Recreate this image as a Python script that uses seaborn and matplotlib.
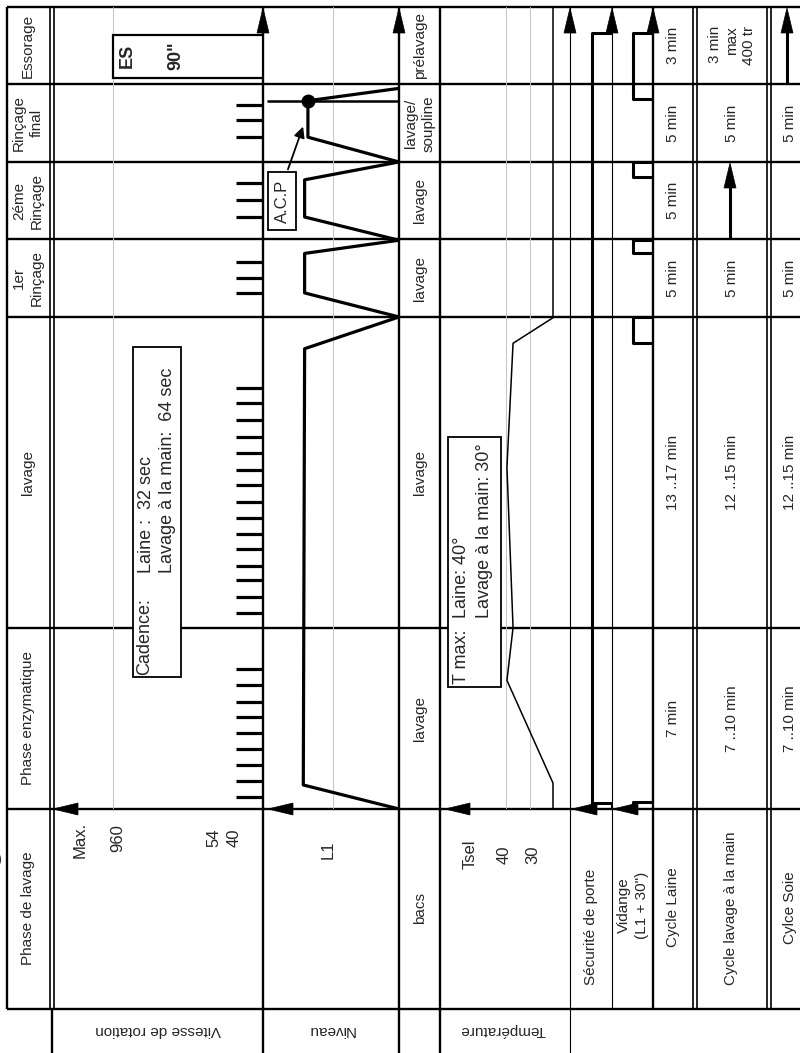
import numpy as np
import matplotlib
matplotlib.use("Agg")
import matplotlib.pyplot as plt
from matplotlib.patches import Polygon, Rectangle
from matplotlib.transforms import blended_transform_factory
import seaborn as sns

sns.set_theme(style="white")
plt.rcParams["font.family"] = ["Liberation Sans", "DejaVu Sans"]

# ---------------- data ----------------
# phases along the (schematic) time axis, bottom -> top
phase_names = ["Phase enzymatique", "lavage", "1er\nRinçage", "2éme\nRinçage", "Rinçage\nfinal", "Essorage"]
phase_edges = [0.0, 23.4, 63.5, 73.5, 83.5, 93.5, 103.5]
bacs_labels = ["lavage", "lavage", "lavage", "lavage", "lavage/\nsoupline", "prélavage"]
cycle_laine = ["7 min", "13 ..17 min", "5 min", "5 min", "5 min", "3 min"]
cycle_main = ["7 ..10 min", "12 ..15 min", "5 min", "^", "5 min", "3 min\nmax\n400 tr"]
cycle_soie = ["7 ..10 min", "12 ..15 min", "5 min", "", "5 min", "^"]

# rotation speed (rpm) -- schematic axis
speed_ref = [0, 40, 54, 960, 1490]
speed_grid = [960]
cadence_t = [1.5, 3.6, 5.7, 7.7, 9.8, 11.9, 13.8, 16.0, 18.1,
             25.3, 27.3, 29.5, 31.4, 33.5, 35.5, 37.5, 39.6, 41.8, 43.7, 45.9, 48.0, 50.2, 52.4, 54.3,
             66.6, 68.5, 70.6, 76.4, 78.6, 80.8, 86.7, 88.9, 90.8]
cadence_rpm = 40
spin_rpm = 960
spin_t = [94.3, 99.9]

# water level (L1 = 1)
level_t = [0, 3.1, 59.4, 63.5, 66.6, 71.7, 73.4, 76.4, 81.2, 83.5, 86.7, 91.4, 93.0]
level_v = [0, 1.45, 1.43, 0, 1.43, 1.43, 0, 1.43, 1.43, 0, 1.38, 1.38, 0]
acp_t = 91.4

# temperature (°C)
temp_t = [0, 3.35, 16.6, 23.4, 44.1, 60.1, 63.4, 103.5]
temp_c = [20, 20, 39.6, 37.0, 39.6, 37.0, 20, 20]
temp_grid = [40, 30]

# door lock and drain (on/off times)
lock_on, lock_off = [0.8], [100.1]
drain_on = [0.0, 60.1, 71.7, 81.5, 91.6]
drain_off = [0.9, 63.5, 73.4, 83.5, 100.1]

# ---------------- layout ----------------
W, H = 800, 1053
Y_T0, Y_T1 = 809, 7
K = "black"
LWT = 1.7
LWn = 0.8
GRID = "#c4c4c4"
FS = 11

fig = plt.figure(figsize=(W / 100, H / 100), dpi=100)
fig.patch.set_facecolor("white")
ax = fig.add_axes([0, 0, 1, 1])
ax.set_xlim(0, W); ax.set_ylim(H, 0); ax.axis("off")


def panel(x0, x1):
    a = fig.add_axes([x0 / W, 1 - Y_T0 / H, (x1 - x0) / W, (Y_T0 - Y_T1) / H])
    a.set_facecolor("none")
    a.axis("off")
    return a


def fix_t(a):
    a.set_ylim(phase_edges[0], phase_edges[-1])


# rows (time phases)
ax_rows = panel(7, 800)
ax_rows.set_xlim(0, 1); fix_t(ax_rows)
ax_rows.hlines(phase_edges, 0, 1, color=K, lw=LWT, clip_on=False)
ax.hlines(1009, 7, 800, color=K, lw=LWT)

# table verticals
verts = [(7, 7, 1009, LWT), (49.5, 7, 1009, 1.2), (53.5, 7, 1009, 1.2), (52, 1009, 1053, LWT),
         (263, 7, 1053, LWT), (399, 7, 1053, LWT), (440, 7, 1053, LWT), (570, 7, 1053, LWn),
         (612, 7, 1009, LWn), (653, 7, 1009, LWT), (693, 7, 1009, 1.2), (697, 7, 1009, 1.2),
         (766.5, 7, 1009, 1.2), (770.5, 7, 1009, 1.2)]
for x, y0, y1, lw in verts:
    ax.vlines(x, y0, y1, color=K, lw=lw)

# ---- speed panel ----
ax_speed = panel(54, 263)
ax_speed.set_xscale("function", functions=(
    lambda v: np.interp(v, speed_ref, [0, 27, 49, 150, 209]),
    lambda p: np.interp(p, [0, 27, 49, 150, 209], speed_ref)))
for g in speed_grid:
    ax_speed.axvline(g, color=GRID, lw=0.7, zorder=0)
ax_speed.hlines(cadence_t, 0, cadence_rpm, color=K, lw=2.3)
ax_speed.add_patch(Rectangle((0, spin_t[0]), spin_rpm, spin_t[1] - spin_t[0],
                             facecolor="white", edgecolor=K, lw=1.6, zorder=3))
ax_speed.set_xlim(speed_ref[-1], 0); fix_t(ax_speed)

# ---- level panel ----
ax_level = panel(263, 399)
ax_level.axvline(1.0, color=GRID, lw=0.7, zorder=0)
ax_level.hlines(acp_t, 0, 2.0, color=K, lw=1.8)
sns.lineplot(x=level_v, y=level_t, sort=False, estimator=None, ax=ax_level, color=K, lw=2.3)
ax_level.plot([level_v[-3]], [acp_t], "o", color=K, ms=9)
ax_level.set_xlim(136 / 66, 0); fix_t(ax_level); ax_level.axis("off")

# ---- temperature panel ----
ax_temp = panel(440, 570)
for g in temp_grid:
    ax_temp.axvline(g, color=GRID, lw=0.7, zorder=0)
sns.lineplot(x=temp_c, y=temp_t, sort=False, estimator=None, ax=ax_temp, color=K, lw=1.1)
ax_temp.set_xlim(20 + 113 / 2.35, 20 - 17 / 2.35); fix_t(ax_temp); ax_temp.axis("off")


def steps(on, off):
    t, v = [0.0], [0]
    for a, b in zip(on, off):
        t += [a, a, b, b]; v += [0, 1, 1, 0]
    return t, v


ax_lock = panel(570, 612)
lt, lv = steps(lock_on, lock_off)
sns.lineplot(x=lv, y=lt, sort=False, estimator=None, ax=ax_lock, color=K, lw=2.2)
ax_lock.set_xlim(2.1, 0); fix_t(ax_lock); ax_lock.axis("off")

ax_drain = panel(612, 653)
dt, dv = steps(drain_on, drain_off)
sns.lineplot(x=dv, y=dt, sort=False, estimator=None, ax=ax_drain, color=K, lw=2.2)
ax_drain.set_xlim(2.05, 0); fix_t(ax_drain); ax_drain.axis("off")

# ---------------- overlay (boxes, arrows, texts) ----------------
ov = fig.add_axes([0, 0, 1, 1])
ov.set_xlim(0, W); ov.set_ylim(H, 0); ov.axis("off"); ov.set_facecolor("none")


def up_arrow(x, y_tip, L=25, w=6):
    ov.add_patch(Polygon([[x, y_tip], [x - w, y_tip + L], [x + w, y_tip + L]], closed=True,
                         facecolor=K, edgecolor=K, lw=0.5, zorder=6))


def left_arrow(x_tip, y, L=25, w=6):
    ov.add_patch(Polygon([[x_tip, y], [x_tip + L, y - w], [x_tip + L, y + w]], closed=True,
                         facecolor=K, edgecolor=K, lw=0.5, zorder=6))


for x in [263, 399, 570, 612, 653]:
    up_arrow(x, 8)
for x in [53, 268, 445, 572, 613]:
    left_arrow(x, 809)

# arrows in cells ("^")
trans_t = blended_transform_factory(ov.transData, ax_rows.transData)
col_x = {"laine": 673, "main": 732, "soie": 787}
for key, vals in [("main", cycle_main), ("soie", cycle_soie)]:
    for i, v in enumerate(vals):
        if v == "^":
            y_bot = Y_T0 - (Y_T0 - Y_T1) * phase_edges[i] / phase_edges[-1]
            y_top = Y_T0 - (Y_T0 - Y_T1) * phase_edges[i + 1] / phase_edges[-1]
            xx = col_x[key] - (2 if key == "main" else 0)
            ov.vlines(xx, y_top + 20, y_bot, color=K, lw=2.2)
            up_arrow(xx, y_top + 1)

# boxes
def box(x0, y0, x1, y1, lw=1.3):
    ov.add_patch(Rectangle((x0, y0), x1 - x0, y1 - y0, facecolor="white", edgecolor=K, lw=lw, zorder=4))

box(133, 347, 181, 677)
box(448, 437, 501, 687)
box(268, 172, 296, 230)

ov.text(145, 675, "Cadence:", rotation=90, rotation_mode="anchor", ha="left", va="center", fontsize=13, zorder=7)
ov.text(157, 573, "Laine :  32 sec\nLavage à la main:  64 sec", rotation=90, rotation_mode="anchor",
        ha="left", va="center", ma="left", fontsize=13, linespacing=1.35, zorder=7)
ov.text(461, 684, "T max:", rotation=90, rotation_mode="anchor", ha="left", va="center", fontsize=13, zorder=7)
ov.text(473, 618, "Laine: 40°\nLavage à la main: 30°", rotation=90, rotation_mode="anchor",
        ha="left", va="center", ma="left", fontsize=13, linespacing=1.4, zorder=7)
ov.text(282, 201, "A.C.P", rotation=90, ha="center", va="center", fontsize=12, zorder=7)
ov.annotate("", xy=(304, 124), xytext=(287, 172),
            arrowprops=dict(arrowstyle="-|>", color=K, lw=1.3, mutation_scale=16), zorder=7)

ov.text(127, 56, "ES", rotation=90, ha="center", va="center", fontsize=13, fontweight="bold", zorder=7)
ov.text(176, 56, '90"', rotation=90, ha="center", va="center", fontsize=13, fontweight="bold", zorder=7)

# phase-row texts
for i in range(len(phase_names)):
    tm = (phase_edges[i] + phase_edges[i + 1]) / 2
    ov.text(28, tm, phase_names[i], transform=trans_t, rotation=90, ha="center", va="center",
            fontsize=FS, linespacing=1.32)
    ov.text(420, tm, bacs_labels[i], transform=trans_t, rotation=90, ha="center", va="center",
            fontsize=FS, linespacing=1.32)
    ov.text(col_x["laine"], tm, cycle_laine[i], transform=trans_t, rotation=90, ha="center", va="center",
            fontsize=FS)
    if cycle_main[i] not in ("^", ""):
        ov.text(col_x["main"], tm, cycle_main[i], transform=trans_t, rotation=90, ha="center", va="center",
                ma="right", fontsize=FS, linespacing=1.3)
    if cycle_soie[i] not in ("^", ""):
        ov.text(col_x["soie"] + 3, tm, cycle_soie[i], transform=trans_t, rotation=90, ha="center",
                va="center", fontsize=FS)

# header row
hdr = [(28, 908, "Phase de lavage"), (420, 908, "bacs"), (591, 927, "Sécurité de porte"),
       (633, 905, 'Vidange\n(L1 + 30")'), (673, 907, "Cycle Laine"),
       (731, 908, "Cycle lavage à la main"), (790, 908, "Cylce Soie")]
for x, y, s in hdr:
    ov.text(x, y, s, rotation=90, ha="center", va="center", fontsize=FS, linespacing=1.4)

# axis value labels
for x, y, s in [(80, 840, "Max."), (118, 838, "960"), (214, 838, "54"), (234, 838, "40"),
                (328, 850, "L1"), (470, 854, "Tsel"), (504, 855, "40"), (533, 855, "30")]:
    ov.text(x, y, s, rotation=90, ha="center", va="center", fontsize=12)

# bottom labels (upside down)
for x, s in [(158, "Vitesse de rotation"), (331, "Niveau"), (503, "Température")]:
    ov.text(x, 1030, s, rotation=180, ha="center", va="center", fontsize=FS)

# cut-off title glyph at the left edge
ov.text(-4, 859, "G", rotation=90, ha="center", va="center", fontsize=15, fontweight="bold", clip_on=False)

fig.savefig("out.png", dpi=100, facecolor="white")
